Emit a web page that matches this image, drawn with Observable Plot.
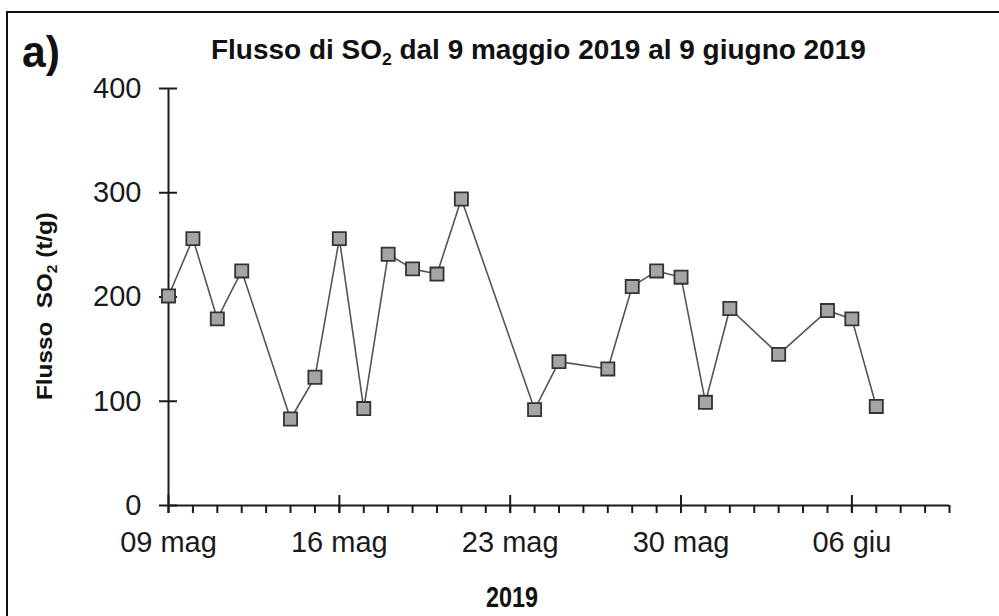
<!DOCTYPE html>
<html>
<head>
<meta charset="utf-8">
<script src="https://cdn.jsdelivr.net/npm/d3@7"></script>
<script src="https://cdn.jsdelivr.net/npm/@observablehq/plot@0.6"></script>
<style>
  html, body { margin: 0; padding: 0; background: #fff; }
  #wrap { position: relative; width: 999px; height: 616px; overflow: hidden; background: #fff; }
  #frame { position: absolute; left: 6px; top: 11px; width: 1100px; height: 700px; border-left: 2px solid #111; border-top: 2px solid #111; }
  #wrap svg.plot { position: absolute; left: 0; top: 0; }
</style>
</head>
<body>
<div id="wrap"><div id="frame"></div></div>
<script>
// ---- data ----
const dates = ["2019-05-09","2019-05-10","2019-05-11","2019-05-12","2019-05-14","2019-05-15","2019-05-16","2019-05-17","2019-05-18","2019-05-19","2019-05-20","2019-05-21","2019-05-24","2019-05-25","2019-05-27","2019-05-28","2019-05-29","2019-05-30","2019-05-31","2019-06-01","2019-06-03","2019-06-05","2019-06-06","2019-06-07"];
const flux = [201,256,179,225,83,123,256,93,241,227,222,294,92,138,131,210,225,219,99,189,145,187,179,95];
const xDomain = ["2019-05-09","2019-06-10"];
const xTickDates = ["2019-05-09","2019-05-16","2019-05-23","2019-05-30","2019-06-06"];
const xTickLabels = ["09 mag","16 mag","23 mag","30 mag","06 giu"];
const yTicks = [0,100,200,300,400];
const titleText = "Flusso di SO";
const titleRest = " dal 9 maggio 2019 al 9 giugno 2019";
const yLabelA = "Flusso  SO";
const yLabelB = " (t/g)";
const xLabel = "2019";
const panelLabel = "a)";

const parse = d3.utcParse("%Y-%m-%d");
const data = dates.map((d, i) => ({date: parse(d), value: flux[i]}));
const xd = xDomain.map(parse);
const majors = xTickDates.map(parse);
const minors = d3.utcDay.range(xd[0], d3.utcDay.offset(xd[1], 1));
const fmt = d => xTickLabels[majors.findIndex(t => +t === +d)];

const font = "'Liberation Sans', Arial, sans-serif";
const narrow = "'Liberation Sans Narrow', 'Arial Narrow', 'Liberation Sans', Arial, sans-serif";
const axisColor = "#1a1a1a";

const plot = Plot.plot({
  width: 999,
  height: 616,
  marginLeft: 168,
  marginRight: 50,
  marginTop: 88,
  marginBottom: 111,
  style: {fontFamily: font, background: "transparent", overflow: "visible"},
  x: {type: "utc", domain: xd},
  y: {domain: [0, 400]},
  marks: [
    // axis lines
    Plot.ruleY([0], {stroke: axisColor, strokeWidth: 2}),
    Plot.ruleX([xd[0]], {stroke: axisColor, strokeWidth: 2}),
    // y ticks crossing the axis
    Plot.axisY(yTicks, {tickSize: 18, dx: 9, text: null, stroke: axisColor, strokeWidth: 2, label: null}),
    Plot.axisY(yTicks, {tickSize: 0, tickPadding: 27, fontSize: 29, fill: axisColor, label: null}),
    // x minor (daily) ticks below the axis
    Plot.axisX(minors, {tickSize: 8, text: null, stroke: axisColor, strokeWidth: 2, label: null}),
    // x major (weekly) ticks crossing the axis
    Plot.axisX(majors, {tickSize: 18, dy: -10, text: null, stroke: axisColor, strokeWidth: 2, label: null}),
    Plot.axisX(majors, {tickSize: 0, tickPadding: 26, tickFormat: fmt, fontSize: 29, fill: axisColor, label: null}),
    // series
    Plot.line(data, {x: "date", y: "value", stroke: "#555", strokeWidth: 1.6}),
    Plot.dot(data, {x: "date", y: "value", symbol: "square", r: 7.4, fill: "#a5a5a5", stroke: "#333", strokeWidth: 1.8})
  ]
});
document.getElementById("wrap").appendChild(plot);

// ---- titles / labels (text overlays) ----
const svg = d3.select(plot);
function fitWidth(sel, target, ax) {
  const w = sel.node().getBBox().width;
  sel.attr("transform", `translate(${ax},0) scale(${target / w},1) translate(${-ax},0)`);
}
const title = svg.append("text")
  .attr("x", 211).attr("y", 59).attr("text-anchor", "start")
  .attr("font-family", narrow).attr("font-weight", "bold").attr("font-size", 27).attr("fill", "#111");
title.append("tspan").text(titleText);
title.append("tspan").attr("font-size", 17).attr("dy", 6).text("2");
title.append("tspan").attr("dy", -6).text(titleRest);
fitWidth(title, 655, 211);

const pl = svg.append("text")
  .attr("x", 22).attr("y", 67).attr("text-anchor", "start")
  .attr("font-family", narrow).attr("font-weight", "bold").attr("font-size", 44).attr("fill", "#111")
  .text(panelLabel);
fitWidth(pl, 38, 22);

const xl = svg.append("text")
  .attr("x", 486).attr("y", 607).attr("text-anchor", "start")
  .attr("font-family", narrow).attr("font-weight", "bold").attr("font-size", 29).attr("fill", "#111")
  .text(xLabel);
fitWidth(xl, 52, 486);

const yl = svg.append("text")
  .attr("font-family", narrow).attr("font-weight", "bold").attr("font-size", 22).attr("fill", "#111")
  .attr("text-anchor", "middle");
yl.append("tspan").text(yLabelA);
yl.append("tspan").attr("font-size", 14).attr("dy", 5).text("2");
yl.append("tspan").attr("dy", -5).text(yLabelB);
const ylw = yl.node().getBBox().width;
yl.attr("transform", `translate(52,306) rotate(-90) scale(${188 / ylw},1)`);
</script>
</body>
</html>
